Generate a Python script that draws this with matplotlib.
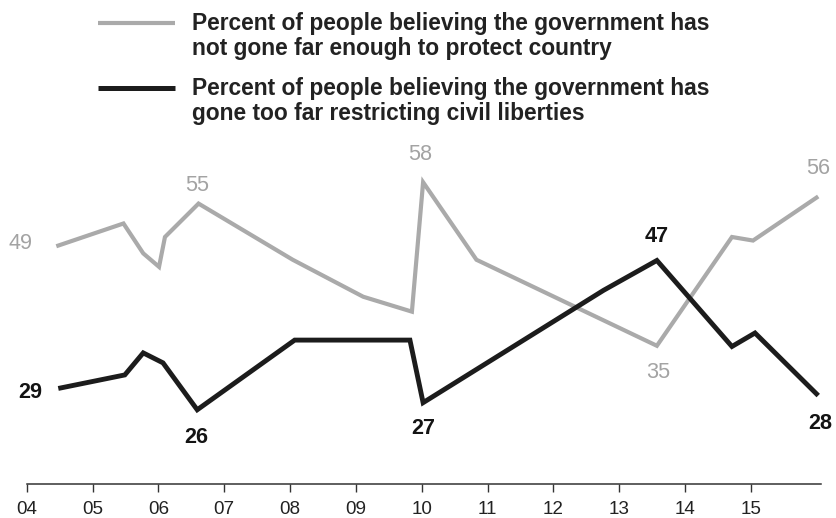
import matplotlib
matplotlib.use("Agg")
import matplotlib.pyplot as plt

plt.rcParams['font.family'] = ['Liberation Sans', 'DejaVu Sans']

# ---- data ----
years_gray = [2004.45, 2005.47, 2005.77, 2006.01, 2006.10, 2006.61, 2008.04,
              2009.11, 2009.85, 2010.02, 2010.83, 2013.57, 2014.71, 2015.03, 2016.02]
gray_vals = [49, 52.2, 48.0, 46.1, 50.3, 55, 47.1, 41.9, 39.8, 58, 47.1, 35, 50.3, 49.8, 56]

years_black = [2004.48, 2005.49, 2005.77, 2006.07, 2006.59, 2008.07, 2009.82,
               2010.02, 2012.76, 2013.57, 2014.71, 2015.06, 2016.02]
black_vals = [29, 30.9, 34.0, 32.6, 26, 35.8, 35.8, 27, 42.8, 47, 34.9, 36.8, 28]

gray_label_idx = [0, 5, 9, 11, 14]
black_label_idx = [0, 4, 7, 9, 12]

tick_years = list(range(2004, 2016))
tick_labels = ["04", "05", "06", "07", "08", "09", "10", "11", "12", "13", "14", "15"]

legend_gray = ["Percent of people believing the government has",
               "not gone far enough to protect country"]
legend_black = ["Percent of people believing the government has",
                "gone too far restricting civil liberties"]

GRAY = "#aaaaaa"
BLACK = "#1c1c1c"

fig = plt.figure(figsize=(8.36, 5.18), dpi=100)
fig.patch.set_facecolor("white")
ax = fig.add_axes([0, 0, 1, 1])
ax.set_facecolor("none")

ax.set_xlim(2003.595, 2016.29)
ax.set_ylim(10.78, 83.63)

ax.plot(years_gray, gray_vals, color=GRAY, lw=3.0, solid_joinstyle="miter",
        solid_capstyle="butt", zorder=2)
ax.plot(years_black, black_vals, color=BLACK, lw=3.5, solid_joinstyle="miter",
        solid_capstyle="butt", zorder=3)

# data labels
gray_offsets = [(-25.9, 1.9), (-1.2, 13.2), (-2.4, 19.9), (1.2, -19.2), (0, 20.2)]
black_offsets = [(-20.4, -2.9), (-0.4, -19.7), (0, -18.7), (0, 17.5), (1.2, -19.9)]
for i, off in zip(gray_label_idx, gray_offsets):
    ax.annotate(f"{gray_vals[i]:g}", (years_gray[i], gray_vals[i]), xytext=off,
                textcoords="offset points", ha="center", va="center",
                fontsize=15.6, color="#a3a3a3")
for i, off in zip(black_label_idx, black_offsets):
    ax.annotate(f"{black_vals[i]:g}", (years_black[i], black_vals[i]), xytext=off,
                textcoords="offset points", ha="center", va="center",
                fontsize=15.6, color="#141414", fontweight="bold")

# axis
for s in ["top", "left", "right"]:
    ax.spines[s].set_visible(False)
ax.spines["bottom"].set_position(("data", 15.52))
ax.spines["bottom"].set_bounds(2004, 2016.06)
ax.spines["bottom"].set_color("#333333")
ax.spines["bottom"].set_linewidth(1.1)
ax.set_xticks(tick_years)
ax.set_xticklabels(tick_labels)
ax.tick_params(axis="x", direction="out", length=6, width=1.0, color="#333333",
               pad=6.3, labelsize=13.6, labelcolor="#222222")
ax.set_yticks([])

# legend
ax_leg = fig.add_axes([0, 0, 1, 1])
ax_leg.set_xlim(0, 836)
ax_leg.set_ylim(518, 0)
ax_leg.axis("off")
ax_leg.plot([98, 175], [22.7, 22.7], color=GRAY, lw=3.0, solid_capstyle="butt")
ax_leg.plot([98, 175], [87.5, 87.5], color=BLACK, lw=3.6, solid_capstyle="butt")
for lines, y0 in [(legend_gray, 30), (legend_black, 95)]:
    for k, line in enumerate(lines):
        ax_leg.text(192, y0 + 25 * k, line, ha="left", va="baseline", fontsize=16.4,
                    fontweight="bold", color="#222222")

fig.savefig("out.png", dpi=100, facecolor="white")
